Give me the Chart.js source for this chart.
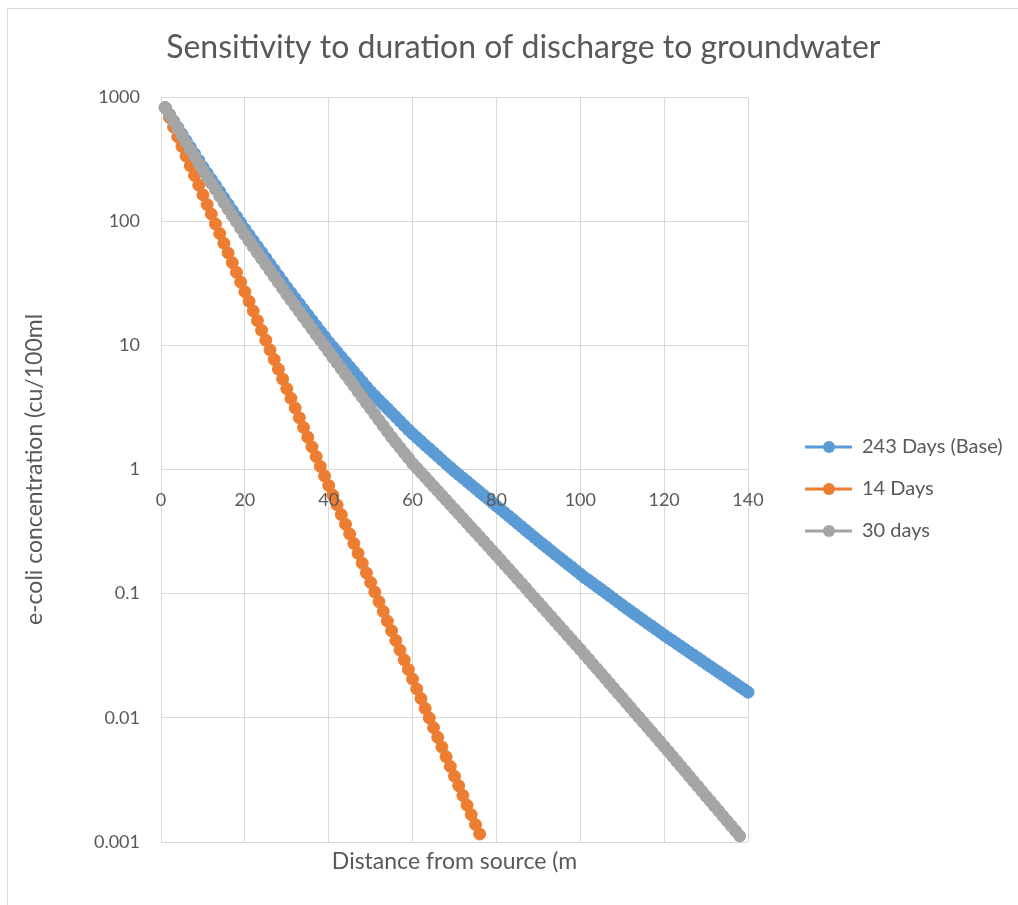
<!DOCTYPE html>
<html>
<head>
<meta charset="utf-8">
<script src="https://cdn.jsdelivr.net/npm/chart.js@4.4.1/dist/chart.umd.min.js"></script>
<style>
  html, body { margin: 0; padding: 0; background: #fff; overflow: hidden; }
  #frame { position: absolute; left: 7px; top: 8px; width: 1200px; height: 1100px; border: 1px solid #d9d9d9; }
  #chart { position: absolute; left: 0; top: 0; }
</style>
</head>
<body>
<div id="frame"></div>
<canvas id="chart" width="1018" height="905"></canvas>
<script>
// distance from source (m)
const distance = [
  1,2,3,4,5,6,7,8,9,10,11,12,13,14,15,16,17,18,19,20,
  21,22,23,24,25,26,27,28,29,30,31,32,33,34,35,36,37,38,39,40,
  41,42,43,44,45,46,47,48,49,50,51,52,53,54,55,56,57,58,59,60,
  61,62,63,64,65,66,67,68,69,70,71,72,73,74,75,76,77,78,79,80,
  81,82,83,84,85,86,87,88,89,90,91,92,93,94,95,96,97,98,99,100,
  101,102,103,104,105,106,107,108,109,110,111,112,113,114,115,116,117,118,119,120,
  121,122,123,124,125,126,127,128,129,130,131,132,133,134,135,136,137,138,139,140
];

// e-coli concentration (cu/100ml)
const base243 = [
  820, 726, 642, 569, 503, 445, 394, 349, 309, 273,
  244, 217, 194, 173, 154, 137, 122, 109, 97.2, 86.5,
  77.6, 69.7, 62.5, 56.1, 50.4, 45.2, 40.6, 36.4, 32.7, 29.3,
  26.5, 23.9, 21.6, 19.5, 17.6, 15.9, 14.4, 13.0, 11.8, 10.6,
  9.70, 8.85, 8.07, 7.36, 6.71, 6.12, 5.58, 5.09, 4.64, 4.24,
  3.92, 3.62, 3.35, 3.10, 2.86, 2.65, 2.45, 2.26, 2.09, 1.94,
  1.81, 1.69, 1.57, 1.47, 1.37, 1.28, 1.19, 1.11, 1.04, 0.970,
  0.910, 0.853, 0.800, 0.750, 0.703, 0.659, 0.618, 0.580, 0.543, 0.509,
  0.478, 0.448, 0.420, 0.394, 0.369, 0.346, 0.324, 0.304, 0.285, 0.267,
  0.251, 0.236, 0.222, 0.208, 0.196, 0.184, 0.173, 0.163, 0.153, 0.144,
  0.135, 0.128, 0.121, 0.114, 0.108, 0.102, 0.0961, 0.0908, 0.0857, 0.0809,
  0.0764, 0.0723, 0.0684, 0.0647, 0.0612, 0.0579, 0.0548, 0.0519, 0.0491, 0.0464,
  0.0440, 0.0418, 0.0396, 0.0376, 0.0356, 0.0338, 0.0320, 0.0304, 0.0288, 0.0273,
  0.0259, 0.0246, 0.0233, 0.0221, 0.0210, 0.0199, 0.0189, 0.0179, 0.0170, 0.0161
];

const days14 = [
  820, 685, 572, 478, 400, 334, 279, 233, 195, 163,
  136, 114, 95.0, 79.4, 66.3, 55.4, 46.3, 38.7, 32.3, 27.0,
  22.6, 18.9, 15.8, 13.2, 11.0, 9.19, 7.68, 6.42, 5.36, 4.48,
  3.74, 3.13, 2.61, 2.18, 1.82, 1.52, 1.27, 1.06, 0.888, 0.742,
  0.620, 0.518, 0.433, 0.362, 0.302, 0.253, 0.211, 0.176, 0.147, 0.123,
  0.103, 0.0861, 0.0719, 0.0601, 0.0502, 0.0420, 0.0351, 0.0293, 0.0245, 0.0205,
  0.0171, 0.0143, 0.0119, 0.00997, 0.00833, 0.00696, 0.00582, 0.00486, 0.00406, 0.00339,
  0.00284, 0.00237, 0.00198, 0.00166, 0.00138, 0.00116
];

const days30 = [
  820, 721, 634, 557, 490, 430, 378, 333, 292, 257,
  228, 202, 180, 159, 141, 125, 111, 98.7, 87.5, 77.6,
  69.5, 62.2, 55.7, 49.9, 44.7, 40.0, 35.8, 32.1, 28.7, 25.7,
  23.1, 20.8, 18.7, 16.8, 15.1, 13.6, 12.2, 11.0, 9.90, 8.91,
  8.01, 7.21, 6.48, 5.83, 5.25, 4.72, 4.24, 3.82, 3.43, 3.09,
  2.78, 2.50, 2.25, 2.02, 1.82, 1.65, 1.50, 1.36, 1.24, 1.12,
  1.03, 0.946, 0.869, 0.798, 0.733, 0.673, 0.618, 0.568, 0.521, 0.479,
  0.440, 0.404, 0.371, 0.340, 0.313, 0.287, 0.264, 0.242, 0.222, 0.204,
  0.187, 0.171, 0.157, 0.144, 0.132, 0.121, 0.111, 0.101, 0.0929, 0.0851,
  0.0780, 0.0714, 0.0654, 0.0600, 0.0549, 0.0503, 0.0461, 0.0423, 0.0387, 0.0355,
  0.0324, 0.0297, 0.0271, 0.0248, 0.0227, 0.0207, 0.0189, 0.0173, 0.0158, 0.0145,
  0.0132, 0.0121, 0.0110, 0.0101, 0.00923, 0.00844, 0.00771, 0.00705, 0.00645, 0.00589,
  0.00537, 0.00490, 0.00447, 0.00407, 0.00372, 0.00339, 0.00309, 0.00282, 0.00257, 0.00234,
  0.00214, 0.00195, 0.00178, 0.00162, 0.00148, 0.00135, 0.00123, 0.00112
];

const seriesNames = ['243 Days (Base)', '14 Days', '30 days'];
const seriesColors = ['#5b9bd5', '#ed7d31', '#a5a5a5'];
const yTicks = [0.001, 0.01, 0.1, 1, 10, 100, 1000];
const xTicks = [0, 20, 40, 60, 80, 100, 120, 140];

const TEXT = '#595959';
const GRID = '#d9d9d9';
Chart.defaults.font.family = 'Lato';

// legend icon: line with a marker, like Excel
function legendIcon(color) {
  const c = document.createElement('canvas');
  c.width = 82; c.height = 14;
  const g = c.getContext('2d');
  g.strokeStyle = color; g.lineWidth = 3;
  g.beginPath(); g.moveTo(35, 7); g.lineTo(82, 7); g.stroke();
  g.fillStyle = color;
  g.beginPath(); g.arc(59, 7, 6, 0, Math.PI * 2); g.fill();
  return c;
}
const icons = seriesColors.map(legendIcon);

// keep the plot's right edge where the reference has it
const m = document.createElement('canvas').getContext('2d');
m.font = '20px Lato';
const legendW = 22 + 82 + 10 + Math.max(...seriesNames.map(n => m.measureText(n).width)) + 10;
const padRight = Math.max(0, 1018 - 748 - legendW);
const padLeft = 34;

const toPoints = arr => arr.map((v, i) => ({ x: distance[i], y: v }));

const datasets = [base243, days14, days30].map((arr, i) => ({
  label: seriesNames[i],
  data: toPoints(arr),
  borderColor: seriesColors[i],
  backgroundColor: seriesColors[i],
  borderWidth: 3,
  pointRadius: 6,
  pointBorderWidth: 1,
  pointHoverRadius: 6,
  tension: 0,
  clip: false,
  order: 3 - i,
}));

new Chart(document.getElementById('chart'), {
  type: 'line',
  data: { datasets },
  options: {
    responsive: false,
    animation: false,
    events: [],
    layout: { padding: { left: padLeft, right: padRight, top: 0, bottom: 0 } },
    plugins: {
      title: {
        display: true,
        text: 'Sensitivity to duration of discharge to groundwater',
        color: TEXT,
        font: { size: 32, weight: 'normal' },
        padding: { top: 28, bottom: 30.6 },
      },
      legend: {
        position: 'right',
        fullSize: false,
        maxWidth: 400,
        title: { display: true, text: '', font: { size: 12 }, padding: { top: 0, bottom: 24.6 } },
        labels: {
          color: TEXT,
          font: { size: 20 },
          usePointStyle: true,
          pointStyleWidth: 82,
          padding: 22,
          sort: (a, b) => a.datasetIndex - b.datasetIndex,
          generateLabels: chart => Chart.defaults.plugins.legend.labels.generateLabels(chart)
            .map(l => ({ ...l, pointStyle: icons[l.datasetIndex] })),
        },
      },
      tooltip: { enabled: false },
    },
    scales: {
      x: {
        type: 'linear',
        min: 0, max: 140,
        position: { y: 1 },
        afterBuildTicks: s => { s.ticks = xTicks.map(v => ({ value: v })); },
        ticks: { color: TEXT, font: { size: 18 }, padding: 20, z: 1 },
        grid: { color: GRID, drawTicks: false },
        border: { display: false },
      },
      xTitle: {
        axis: 'x',
        type: 'linear',
        position: 'bottom',
        ticks: { display: false },
        grid: { display: false, drawTicks: false },
        border: { display: false },
        title: {
          display: true,
          text: 'Distance from source (m',
          color: TEXT,
          font: { size: 23 },
          padding: { top: 6.2, bottom: 29.2 },
        },
      },
      y: {
        type: 'logarithmic',
        min: 0.001, max: 1000,
        afterBuildTicks: s => { s.ticks = yTicks.map(v => ({ value: v })); },
        afterFit: s => { s.width = 161 - padLeft; },
        ticks: { color: TEXT, font: { size: 18 }, padding: 21, callback: v => String(v) },
        grid: { color: GRID, drawTicks: false },
        border: { display: false },
        title: {
          display: true,
          text: 'e-coli concentration (cu/100ml',
          color: TEXT,
          font: { size: 23 },
          padding: { top: 35 - padLeft - 13.8, bottom: 0 },
        },
      },
    },
  },
});
</script>
</body>
</html>
